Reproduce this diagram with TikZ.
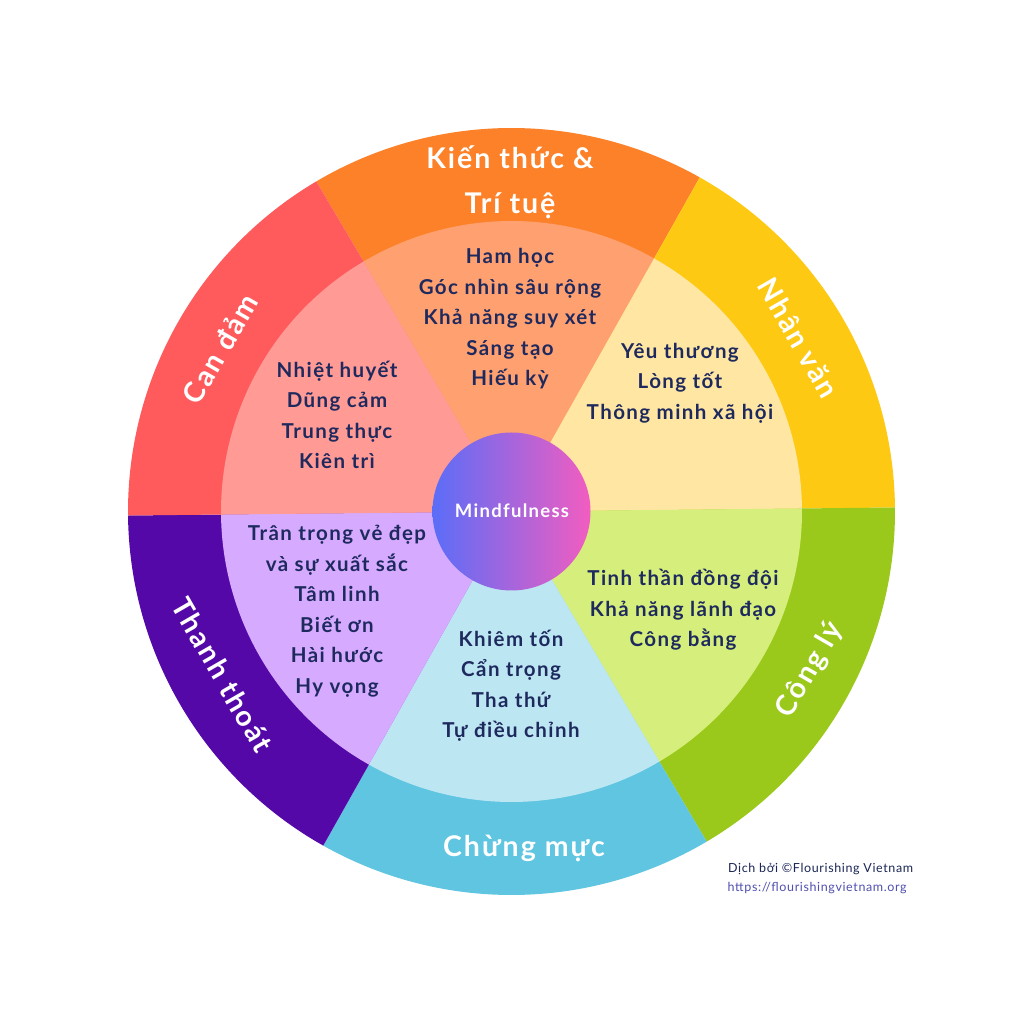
\documentclass[tikz,border=0pt]{standalone}
\usepackage{fontspec}
\setmainfont{Lato}
\newfontfamily\wheelfont{Lato}[LetterSpace=7]
\newfontfamily\creditfont{Lato}[LetterSpace=5]
\usetikzlibrary{shadings}
\definecolor{oOrange}{HTML}{FD8128}
\definecolor{iOrange}{HTML}{FFA070}
\definecolor{oYellow}{HTML}{FDC913}
\definecolor{iYellow}{HTML}{FFE6A3}
\definecolor{oGreen}{HTML}{9AC91B}
\definecolor{iGreen}{HTML}{D6EF7C}
\definecolor{oBlue}{HTML}{5FC5E0}
\definecolor{iBlue}{HTML}{BDE6F3}
\definecolor{oPurple}{HTML}{5408A8}
\definecolor{iPurple}{HTML}{D6AAFF}
\definecolor{oRed}{HTML}{FF5A5C}
\definecolor{iRed}{HTML}{FF9A95}
\definecolor{navy}{HTML}{1E2A5E}
\definecolor{urlc}{HTML}{5050B0}
\definecolor{gradL}{HTML}{5B6DF8}
\definecolor{gradR}{HTML}{F25DC0}
\begin{document}
\begin{tikzpicture}[x=1pt,y=1pt,
  innertext/.style={text=navy, align=center, font=\wheelfont\fontsize{20.5}{30.5}\bfseries\selectfont, inner sep=0pt},
  outertext/.style={text=white, align=center, font=\wheelfont\fontsize{28.5}{45}\bfseries\selectfont, inner sep=0pt},
  credit/.style={anchor=west, inner sep=0pt, font=\creditfont\fontsize{12.5}{15}\selectfont}
]
\useasboundingbox[fill=white] (-511.5,-512.5) rectangle (512.5,511.5);
\def\Ro{383.5}
\def\Ri{290.5}
% outer ring slices
\foreach \a/\c in {60.6/oOrange, 0.6/oYellow, -59.4/oGreen, -119.4/oBlue, 180.6/oPurple, 120.6/oRed}{
  \fill[\c] (0,0) -- (\a:\Ro) arc[start angle=\a, delta angle=60, radius=\Ro] -- cycle;
}
% inner slices
\foreach \a/\c in {60.6/iOrange, 0.6/iYellow, -59.4/iGreen, -119.4/iBlue, 180.6/iPurple, 120.6/iRed}{
  \fill[\c] (0,0) -- (\a:\Ri) arc[start angle=\a, delta angle=60, radius=\Ri] -- cycle;
}
% centre
\shade[left color=gradL, right color=gradR] (0,0) circle (79);
\node[text=white, font=\wheelfont\fontsize{18.5}{20}\bfseries\selectfont, inner sep=0pt] (mind) at (0.5,0.5) {Mindfulness};

% outer labels
\node[outertext] (wisdom) at (-1.5,329.5) {Kiến thức \&\\Trí tuệ};
\node[outertext, rotate=-60] (humanity) at (287,173.5) {Nhân văn};
\node[outertext, rotate=60] (justice) at (298.5,-158.5) {Công lý};
\node[outertext] (temperance) at (12.5,-336.5) {Chừng mực};
\node[outertext, rotate=-60] (transcend) at (-289,-163.5) {Thanh thoát};
\node[outertext, rotate=60] (courage) at (-291.5,162.5) {Can đảm};

% inner texts
\node[innertext] (tWisdom) at (-1.5,192.5) {Ham học\\Góc nhìn sâu rộng\\Khả năng suy xét\\Sáng tạo\\Hiếu kỳ};
\node[innertext] (tHumanity) at (168.5,128.5) {Yêu thương\\Lòng tốt\\Thông minh xã hội};
\node[innertext] (tJustice) at (171.5,-98.5) {Tinh thần đồng đội\\Khả năng lãnh đạo\\Công bằng};
\node[innertext] (tTemperance) at (-0.5,-174) {Khiêm tốn\\Cẩn trọng\\Tha thứ\\Tự điều chỉnh};
\node[innertext] (tTranscend) at (-174.5,-99.5) {Trân trọng vẻ đẹp\\và sự xuất sắc\\Tâm linh\\Biết ơn\\Hài hước\\Hy vọng};
\node[innertext] (tCourage) at (-174.5,96.5) {Nhiệt huyết\\Dũng cảm\\Trung thực\\Kiên trì};

% credit
\node[credit, text=navy!90!black] (by) at (216.5,-357.5) {Dịch bởi ©Flourishing Vietnam};
\node[credit, text=urlc] (url) at (216,-376.5) {https://flourishingvietnam.org};
\end{tikzpicture}
\end{document}
